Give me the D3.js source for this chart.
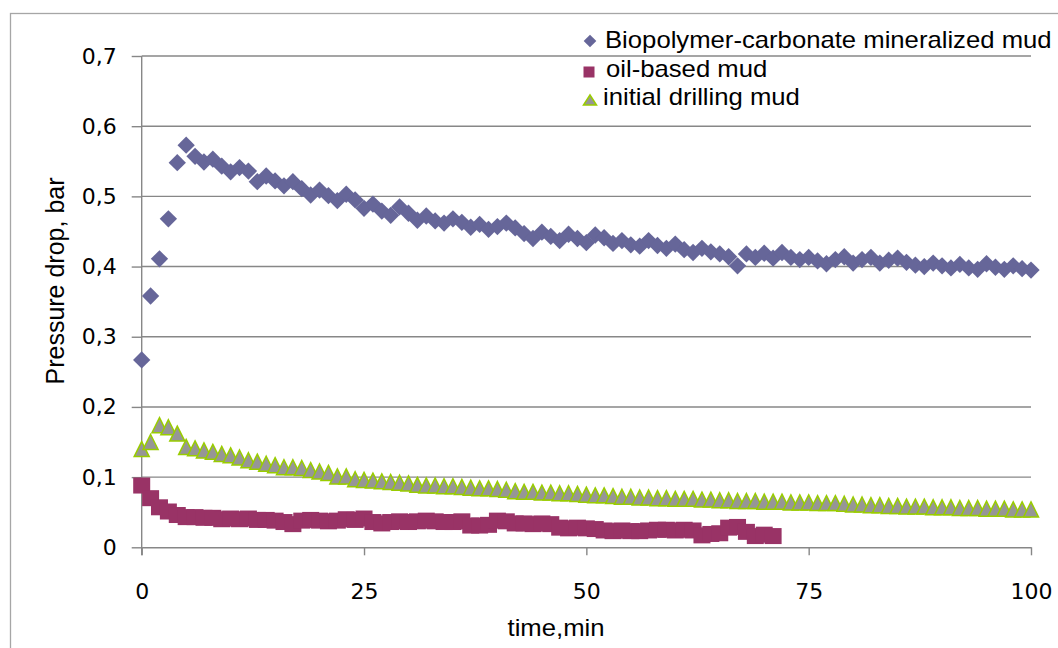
<!DOCTYPE html>
<html>
<head>
<meta charset="utf-8">
<script src="https://cdn.jsdelivr.net/npm/d3@7"></script>
<style>
  html, body { margin: 0; padding: 0; background: #fff; }
  svg { display: block; }
</style>
</head>
<body>
<svg id="chart"></svg>
<script>
// time axis (minutes) and the three measured series
const minutes = d3.range(0, 101);

const bioValues = [
  0.267, 0.358, 0.411, 0.468, 0.548, 0.573, 0.557, 0.549, 0.553, 0.543,
  0.535, 0.541, 0.536, 0.521, 0.529, 0.522, 0.515, 0.521, 0.511, 0.502,
  0.509, 0.501, 0.494, 0.503, 0.495, 0.483, 0.489, 0.479, 0.473, 0.485,
  0.476, 0.466, 0.472, 0.465, 0.462, 0.468, 0.463, 0.456, 0.460, 0.453,
  0.457, 0.462, 0.455, 0.447, 0.440, 0.449, 0.443, 0.437, 0.446, 0.440,
  0.434, 0.445, 0.441, 0.433, 0.437, 0.431, 0.429, 0.437, 0.430, 0.426,
  0.432, 0.424, 0.420, 0.426, 0.421, 0.418, 0.414, 0.401, 0.418, 0.413,
  0.419, 0.412, 0.420, 0.413, 0.410, 0.413, 0.408, 0.404, 0.410, 0.414,
  0.405, 0.410, 0.413, 0.405, 0.409, 0.412, 0.406, 0.402, 0.400, 0.405,
  0.401, 0.398, 0.403, 0.398, 0.396, 0.404, 0.399, 0.396, 0.401, 0.397,
  0.395
];

// oil-based mud was only recorded up to 71 min
const oilValues = [
  0.088, 0.070, 0.057, 0.051, 0.046, 0.043, 0.043, 0.042, 0.042, 0.040,
  0.041, 0.040, 0.041, 0.039, 0.039, 0.038, 0.036, 0.033, 0.038, 0.039,
  0.038, 0.037, 0.038, 0.040, 0.039, 0.041, 0.036, 0.034, 0.036, 0.037,
  0.036, 0.037, 0.038, 0.037, 0.036, 0.036, 0.037, 0.031, 0.031, 0.032,
  0.038, 0.037, 0.034, 0.034, 0.033, 0.034, 0.033, 0.028, 0.027, 0.028,
  0.027, 0.026, 0.024, 0.023, 0.024, 0.023, 0.023, 0.024, 0.025, 0.025,
  0.024, 0.025, 0.024, 0.017, 0.019, 0.020, 0.028, 0.029, 0.022, 0.016,
  0.018, 0.016
];

const initValues = [
  0.140, 0.150, 0.174, 0.171, 0.162, 0.143, 0.141, 0.138, 0.136, 0.133,
  0.131, 0.128, 0.124, 0.122, 0.119, 0.117, 0.114, 0.114, 0.113, 0.110,
  0.108, 0.106, 0.101, 0.101, 0.097, 0.096, 0.095, 0.094, 0.093, 0.092,
  0.091, 0.089, 0.088, 0.088, 0.087, 0.087, 0.086, 0.085, 0.084, 0.084,
  0.083, 0.082, 0.080, 0.079, 0.079, 0.078, 0.078, 0.077, 0.077, 0.076,
  0.075, 0.074, 0.074, 0.073, 0.072, 0.072, 0.071, 0.071, 0.070, 0.070,
  0.069, 0.069, 0.069, 0.068, 0.068, 0.067, 0.067, 0.066, 0.066, 0.066,
  0.065, 0.065, 0.065, 0.064, 0.064, 0.064, 0.063, 0.063, 0.063, 0.062,
  0.061, 0.061, 0.060, 0.060, 0.059, 0.059, 0.058, 0.058, 0.058, 0.057,
  0.057, 0.057, 0.056, 0.056, 0.056, 0.055, 0.055, 0.055, 0.054, 0.054,
  0.054
];

const seriesNames = [
  'Biopolymer-carbonate mineralized mud',
  'oil-based mud',
  'initial drilling mud'
];
const xTicks = [0, 25, 50, 75, 100];
const yTicks = [0, 0.1, 0.2, 0.3, 0.4, 0.5, 0.6, 0.7];

const width = 1058, height = 648;
const svg = d3.select('#chart').attr('width', width).attr('height', height);

const x = d3.scaleLinear().domain([0, 100]).range([141.7, 1031]);
const y = d3.scaleLinear().domain([0, 0.7]).range([547.3, 56]);

const gridColor = '#878787';
const tickFont = 'DejaVu Sans, Verdana, sans-serif';
const textFont = 'Liberation Sans, Arial, sans-serif';
const stretch = 1.07; // source image is slightly wider than tall

// outer frame (only left and top edges are visible)
svg.append('rect')
  .attr('x', 10.5).attr('y', 13.5)
  .attr('width', 1100).attr('height', 700)
  .attr('fill', 'none')
  .attr('stroke', '#a6a6a6')
  .attr('stroke-width', 1.3);

// horizontal gridlines
svg.append('g')
  .selectAll('line')
  .data(yTicks.filter(d => d > 0))
  .enter()
  .append('line')
  .attr('x1', x(0)).attr('x2', x(100))
  .attr('y1', d => y(d)).attr('y2', d => y(d))
  .attr('stroke', gridColor)
  .attr('stroke-width', 1.4);

const fmt = d => d === 0 ? '0' : d3.format('.1f')(d).replace('.', ',');

// y axis
const yAxis = svg.append('g')
  .attr('transform', `translate(${x(0)},0)`)
  .call(d3.axisLeft(y).tickValues(yTicks).tickFormat(fmt).tickSize(10).tickSizeOuter(0).tickPadding(15));

// x axis
const xAxis = svg.append('g')
  .attr('transform', `translate(0,${y(0)})`)
  .call(d3.axisBottom(x).tickValues(xTicks).tickSize(8).tickSizeOuter(0).tickPadding(28));

[yAxis, xAxis].forEach(ax => {
  ax.selectAll('.domain, .tick line').attr('stroke', gridColor).attr('stroke-width', 1.4);
  ax.selectAll('text')
    .attr('fill', '#000')
    .style('font-family', tickFont)
    .style('font-size', '22px');
});
// y axis line runs down to the end of the x tick at 0
yAxis.select('.domain').attr('d', `M0,${y(0.7)}V${y(0) + 8}`);

// axis titles
svg.append('text')
  .attr('transform', `translate(556,636) scale(${stretch},1)`)
  .attr('text-anchor', 'middle')
  .style('font-family', textFont)
  .style('font-size', '24px')
  .attr('fill', '#000')
  .text('time,min');

svg.append('text')
  .attr('transform', 'translate(64,281) rotate(-90)')
  .attr('text-anchor', 'middle')
  .style('font-family', textFont)
  .style('font-size', '25px')
  .attr('fill', '#000')
  .text('Pressure drop, bar');

// markers
const bioColor = '#666699';
const oilColor = '#993366';
const initFill = '#969696';
const initStroke = '#99cc00';

const diamond = d3.symbol().type(d3.symbolSquare).size(150)();
const triangle = (w, h) => `M0,${-h / 2}L${w / 2},${h / 2}L${-w / 2},${h / 2}Z`;

svg.append('g')
  .selectAll('path')
  .data(bioValues)
  .enter()
  .append('path')
  .attr('d', diamond)
  .attr('transform', (d, i) => `translate(${x(minutes[i])},${y(d)}) rotate(45)`)
  .attr('fill', bioColor);

svg.append('g')
  .selectAll('rect')
  .data(oilValues)
  .enter()
  .append('rect')
  .attr('x', (d, i) => x(minutes[i]) - 8.5)
  .attr('y', d => y(d) - 8)
  .attr('width', 17)
  .attr('height', 16)
  .attr('fill', oilColor);

svg.append('g')
  .selectAll('path')
  .data(initValues)
  .enter()
  .append('path')
  .attr('d', triangle(15, 15))
  .attr('transform', (d, i) => `translate(${x(minutes[i])},${y(d)})`)
  .attr('fill', initFill)
  .attr('stroke', initStroke)
  .attr('stroke-width', 1.5)
  .attr('stroke-linejoin', 'miter');

// legend
const legendRows = [
  { name: seriesNames[0], mx: 590, my: 41, tx: 605, ty: 48 },
  { name: seriesNames[1], mx: 589, my: 72, tx: 606, ty: 77 },
  { name: seriesNames[2], mx: 590, my: 100, tx: 603, ty: 105 }
];

const legend = svg.append('g');
legend.append('path')
  .attr('d', d3.symbol().type(d3.symbolSquare).size(80)())
  .attr('transform', `translate(${legendRows[0].mx},${legendRows[0].my}) rotate(45)`)
  .attr('fill', bioColor);
legend.append('rect')
  .attr('x', legendRows[1].mx - 5.5).attr('y', legendRows[1].my - 5.5)
  .attr('width', 11).attr('height', 11)
  .attr('fill', oilColor);
legend.append('path')
  .attr('d', triangle(13, 10))
  .attr('transform', `translate(${legendRows[2].mx},${legendRows[2].my})`)
  .attr('fill', initFill)
  .attr('stroke', initStroke)
  .attr('stroke-width', 1.5);

legend.selectAll('text')
  .data(legendRows)
  .enter()
  .append('text')
  .attr('transform', d => `translate(${d.tx},${d.ty}) scale(${stretch},1)`)
  .style('font-family', textFont)
  .style('font-size', '24px')
  .attr('fill', '#000')
  .text(d => d.name);
</script>
</body>
</html>
